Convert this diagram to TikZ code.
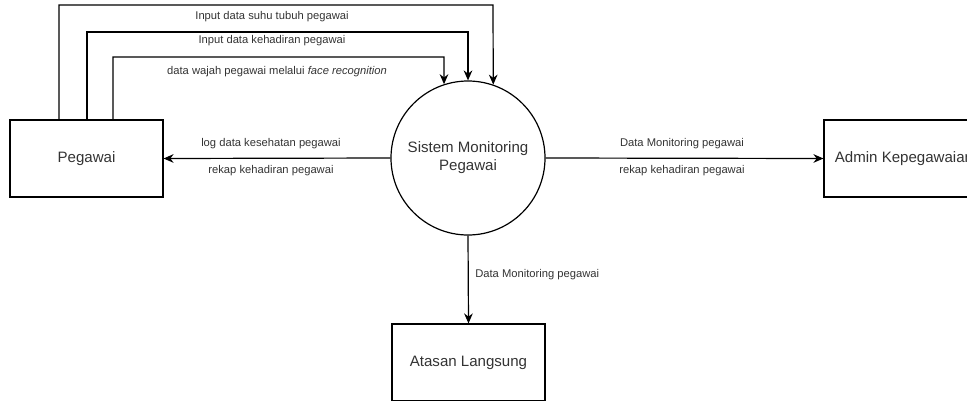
\documentclass[tikz,border=0pt]{standalone}
\usepackage{fontspec}
\setmainfont{Liberation Sans}
\usetikzlibrary{arrows.meta,calc}
\definecolor{txt}{HTML}{333333}
\begin{document}
\begin{tikzpicture}[x=0.75pt,y=-0.75pt,
  box/.style={draw,line width=0.9pt,minimum width=114.75pt,minimum height=57.75pt,inner sep=0pt,font=\fontsize{11.3}{13.5}\selectfont,text=txt},
  proc/.style={draw,circle,line width=0.9pt,minimum size=115.5pt,inner sep=0pt,align=center,font=\fontsize{11.3}{13.5}\selectfont,text=txt},
  arr/.style={line width=0.9pt,-{Stealth[length=7.5pt,width=6.5pt]}},
  lbl/.style={font=\fontsize{8.4}{10}\selectfont,text=txt,inner sep=0pt}]
\useasboundingbox (0,0) rectangle (967,400);
\clip (0,0) rectangle (967,400);
\node[box] (peg) at (86.5,158.5) {Pegawai};
\node[proc] (sys) at (468,158) {Sistem Monitoring\\Pegawai};
\node[box,minimum width=120pt] (adm) at (904,158.5) {Admin Kepegawaian};
\node[box] (ata) at (468.5,362.5) {Atasan Langsung};
\coordinate (c1) at (493,5);
\coordinate (c2) at (468,32);
\coordinate (c3) at (444,57);
\draw[arr] ($(peg.north)+(-27.5,0)$) |- (c1) -- (sys.71.1);
\draw[arr] ($(peg.north)+(0.5,0)$) |- (c2) -- (sys.north);
\draw[arr] ($(peg.north)+(26.5,0)$) |- (c3) -- (sys.108.2);
\node[lbl] (l1) at (272,17) {Input data suhu tubuh pegawai};
\node[lbl] (l2) at (272,41) {Input data kehadiran pegawai};
\node[lbl] (l3) at (277,72) {data wajah pegawai melalui \textit{face recognition}};
\draw[arr] (sys.west) -- (peg.east);
\node[lbl] (l4) at (271,144) {log data kesehatan pegawai};
\node[lbl] (l5) at (271,171) {rekap kehadiran pegawai};
\draw[arr] (sys.east) -- (adm.west);
\node[lbl] (l6) at (682,144) {Data Monitoring pegawai};
\node[lbl] (l7) at (682,171) {rekap kehadiran pegawai};
\draw[arr] (sys.south) -- (ata.north);
\node[lbl,anchor=west] (l8) at (475,275) {Data Monitoring pegawai};
\end{tikzpicture}
\end{document}
